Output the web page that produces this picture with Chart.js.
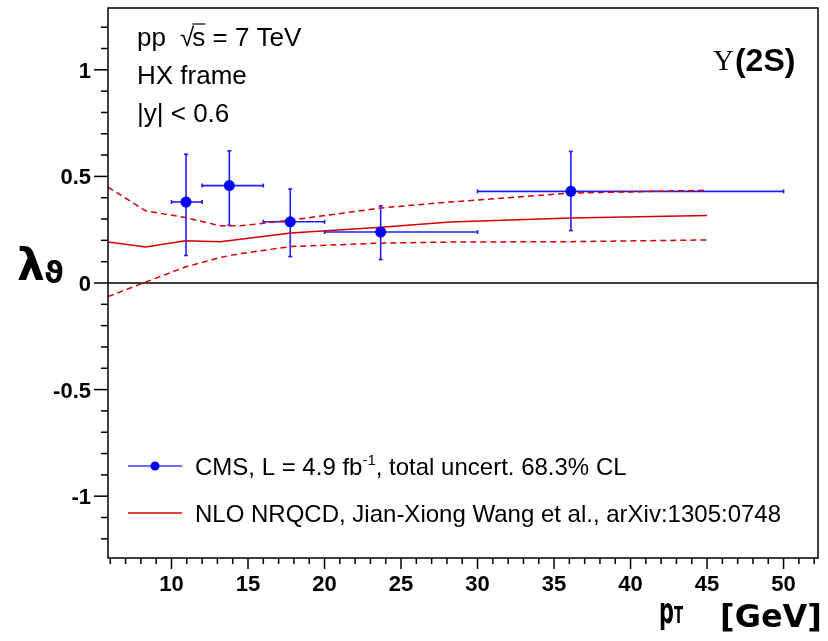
<!DOCTYPE html>
<html>
<head>
<meta charset="utf-8">
<script src="https://cdn.jsdelivr.net/npm/chart.js@4.4.0/dist/chart.umd.min.js"></script>
<style>
    html, body { margin: 0; padding: 0; background: #fff; }
    canvas { display: block; }
</style>
</head>
<body>
<canvas id="lambdaChart" width="828" height="641"></canvas>
<script>
// measured points: pT bin centre, bin edges, lambda_theta and its 68.3% interval
let ptValues = [10.95, 13.78, 17.76, 23.67, 36.1]
let ptLow = [10, 12, 16, 20, 30]
let ptHigh = [12, 16, 20, 30, 50]
let lambdaValues = [0.380, 0.457, 0.287, 0.239, 0.430]
let lambdaUp = [0.604, 0.620, 0.441, 0.362, 0.617]
let lambdaDown = [0.129, 0.270, 0.124, 0.110, 0.246]

// NLO NRQCD prediction, central value and band edges
let theoryPt = [5.85, 8.3, 10.9, 13.2, 14.5, 17.8, 23.7, 28.2, 36.1, 45]
let theoryCentral = [0.192, 0.169, 0.198, 0.193, 0.205, 0.234, 0.262, 0.286, 0.305, 0.317]
let theoryUpper = [0.450, 0.339, 0.307, 0.268, 0.268, 0.295, 0.352, 0.380, 0.422, 0.435]
let theoryLower = [-0.064, 0.004, 0.075, 0.120, 0.138, 0.171, 0.187, 0.192, 0.194, 0.202]

let xTicks = [10, 15, 20, 25, 30, 35, 40, 45, 50]
let yTicks = [-1, -0.5, 0, 0.5, 1]
let xRange = [5.85, 52.25]
let yRange = [-1.29, 1.29]

let infoLines = ["pp", "HX frame", "|y| < 0.6"]
let legendLabels = ["CMS, L = 4.9 fb", "NLO NRQCD, Jian-Xiong Wang et al., arXiv:1305:0748"]

const blue = "rgb(0,0,255)"
const red = "rgb(215,0,0)"

function toPoints(xs, ys){
    let pts = []
    for(let i = 0; i < xs.length; i++){
        pts.push({x: xs[i], y: ys[i]})
    }
    return pts
}

function line(ctx, x1, y1, x2, y2){
    ctx.beginPath()
    ctx.moveTo(x1, y1)
    ctx.lineTo(x2, y2)
    ctx.stroke()
}

const decorations = {
    id: "decorations",
    beforeDatasetsDraw(chart){
        let ctx = chart.ctx
        let x = chart.scales.x
        let y = chart.scales.y
        let area = chart.chartArea
        ctx.save()
        // zero line
        ctx.strokeStyle = "#000"
        ctx.lineWidth = 1.5
        line(ctx, area.left, y.getPixelForValue(0), area.right, y.getPixelForValue(0))

        // error bars
        ctx.strokeStyle = "rgb(30,30,255)"
        ctx.lineWidth = 1.6
        for(let i = 0; i < ptValues.length; i++){
            let px = x.getPixelForValue(ptValues[i])
            let py = y.getPixelForValue(lambdaValues[i])
            let xl = x.getPixelForValue(ptLow[i])
            let xh = x.getPixelForValue(ptHigh[i])
            let yu = y.getPixelForValue(lambdaUp[i])
            let yd = y.getPixelForValue(lambdaDown[i])
            line(ctx, xl, py, xh, py)
            line(ctx, px, yu, px, yd)
            line(ctx, xl, py - 2, xl, py + 2)
            line(ctx, xh, py - 2, xh, py + 2)
            line(ctx, px - 2, yu, px + 2, yu)
            line(ctx, px - 2, yd, px + 2, yd)
        }
        ctx.restore()
    },
    afterDraw(chart){
        let ctx = chart.ctx
        let x = chart.scales.x
        let y = chart.scales.y
        let area = chart.chartArea
        ctx.save()

        // frame
        ctx.strokeStyle = "#000"
        ctx.lineWidth = 1.5
        ctx.strokeRect(area.left, area.top, area.right - area.left, area.bottom - area.top)

        // tick marks, major every 5 / 0.5, minor every 1 / 0.1
        for(let k = Math.ceil(xRange[0]); k <= xRange[1]; k++){
            let len = (k % 5 == 0) ? 11 : 6
            let px = x.getPixelForValue(k)
            line(ctx, px, area.bottom, px, area.bottom + len)
        }
        for(let k = Math.ceil(yRange[0] * 10); k <= yRange[1] * 10; k++){
            let len = (k % 5 == 0) ? 14 : 7
            let py = y.getPixelForValue(k / 10)
            line(ctx, area.left - len, py, area.left, py)
        }

        ctx.fillStyle = "#000"
        ctx.textBaseline = "alphabetic"
        ctx.textAlign = "left"

        // info text top left
        ctx.font = '26px "Liberation Sans"'
        ctx.fillText(infoLines[0], 137, 46)
        let sx = 180
        ctx.fillText("\u221A", sx, 46)
        let sqrtW = ctx.measureText("\u221A").width
        let sW = ctx.measureText("s").width
        ctx.fillText("s = 7 TeV", sx + sqrtW - 2, 46)
        ctx.lineWidth = 1.2
        line(ctx, sx + sqrtW - 2, 24, sx + sqrtW - 2 + sW, 24)
        ctx.fillText(infoLines[1], 137, 84)
        ctx.fillText(infoLines[2], 137, 122)

        // particle label
        ctx.font = '29px "Liberation Serif"'
        ctx.fillText("\u03A5", 713, 70)
        let upsW = ctx.measureText("\u03A5").width
        ctx.font = 'bold 32px "Liberation Sans"'
        ctx.fillText("(2S)", 713 + upsW + 1, 71)

        // legend
        let lx = 128
        let ly = [466, 513]
        ctx.lineWidth = 1.5
        ctx.strokeStyle = "rgb(60,60,255)"
        line(ctx, lx, ly[0], lx + 54, ly[0])
        ctx.fillStyle = blue
        ctx.beginPath()
        ctx.arc(lx + 27, ly[0], 4.5, 0, Math.PI * 2)
        ctx.fill()
        ctx.strokeStyle = red
        line(ctx, lx, ly[1], lx + 54, ly[1])

        ctx.fillStyle = "#000"
        ctx.font = '24px "Liberation Sans"'
        let tx = 195
        ctx.fillText(legendLabels[0], tx, ly[0] + 8.5)
        tx += ctx.measureText(legendLabels[0]).width
        ctx.font = '15px "Liberation Sans"'
        ctx.fillText("-1", tx, ly[0] - 1)
        tx += ctx.measureText("-1").width
        ctx.font = '24px "Liberation Sans"'
        ctx.fillText(", total uncert. 68.3% CL", tx, ly[0] + 8.5)
        ctx.fillText(legendLabels[1], 195, ly[1] + 8.5)

        // y axis title
        ctx.font = 'bold 44px "DejaVu Sans"'
        ctx.fillText("\u03BB", 17, 280)
        ctx.font = 'bold 30px "DejaVu Sans"'
        ctx.fillText("\u03D1", 44, 283)

        // x axis title, narrow p_T
        ctx.save()
        ctx.translate(659, 623)
        ctx.scale(0.58, 1)
        ctx.font = 'bold 36px "DejaVu Sans"'
        ctx.fillText("p", 0, 0)
        ctx.font = 'bold 23px "DejaVu Sans"'
        ctx.fillText("T", 26, 0)
        ctx.restore()
        ctx.font = 'bold 32px "DejaVu Sans"'
        ctx.fillText("[GeV]", 720, 627)

        ctx.restore()
    }
}

new Chart("lambdaChart", {
    type: "scatter",
    data: {
        datasets: [
            {
                label: "CMS",
                data: toPoints(ptValues, lambdaValues),
                pointRadius: 5.5,
                pointBackgroundColor: blue,
                pointBorderWidth: 0,
                showLine: false
            },
            {
                label: "NLO NRQCD",
                data: toPoints(theoryPt, theoryCentral),
                showLine: true,
                borderColor: red,
                borderWidth: 1.5,
                pointRadius: 0
            },
            {
                label: "NLO NRQCD upper",
                data: toPoints(theoryPt, theoryUpper),
                showLine: true,
                borderColor: red,
                borderWidth: 1.5,
                borderDash: [6, 4],
                pointRadius: 0
            },
            {
                label: "NLO NRQCD lower",
                data: toPoints(theoryPt, theoryLower),
                showLine: true,
                borderColor: red,
                borderWidth: 1.5,
                borderDash: [6, 4],
                pointRadius: 0
            }
        ]
    },
    options: {
        responsive: false,
        animation: false,
        devicePixelRatio: 1,
        layout: {
            padding: {top: 8, right: 10, left: 0, bottom: 0}
        },
        plugins: {
            legend: {display: false},
            tooltip: {enabled: false}
        },
        scales: {
            x: {
                type: "linear",
                min: xRange[0],
                max: xRange[1],
                grid: {display: false, drawTicks: false},
                border: {display: false},
                afterBuildTicks: (scale) => { scale.ticks = xTicks.map(v => ({value: v})) },
                afterFit: (scale) => {
                    scale.height = 83
                    scale.paddingLeft = 0
                    scale.paddingRight = 0
                },
                ticks: {
                    font: {family: "Liberation Sans", size: 22, weight: "bold"},
                    color: "#000",
                    padding: 14,
                    maxRotation: 0,
                    autoSkip: false
                }
            },
            y: {
                type: "linear",
                min: yRange[0],
                max: yRange[1],
                grid: {display: false, drawTicks: false},
                border: {display: false},
                afterBuildTicks: (scale) => { scale.ticks = yTicks.map(v => ({value: v})) },
                afterFit: (scale) => {
                    scale.width = 108
                    scale.paddingTop = 0
                    scale.paddingBottom = 0
                },
                ticks: {
                    font: {family: "Liberation Sans", size: 22, weight: "bold"},
                    color: "#000",
                    padding: 17,
                    labelOffset: 2,
                    autoSkip: false,
                    callback: (v) => String(v)
                }
            }
        }
    },
    plugins: [decorations]
});
</script>
</body>
</html>
